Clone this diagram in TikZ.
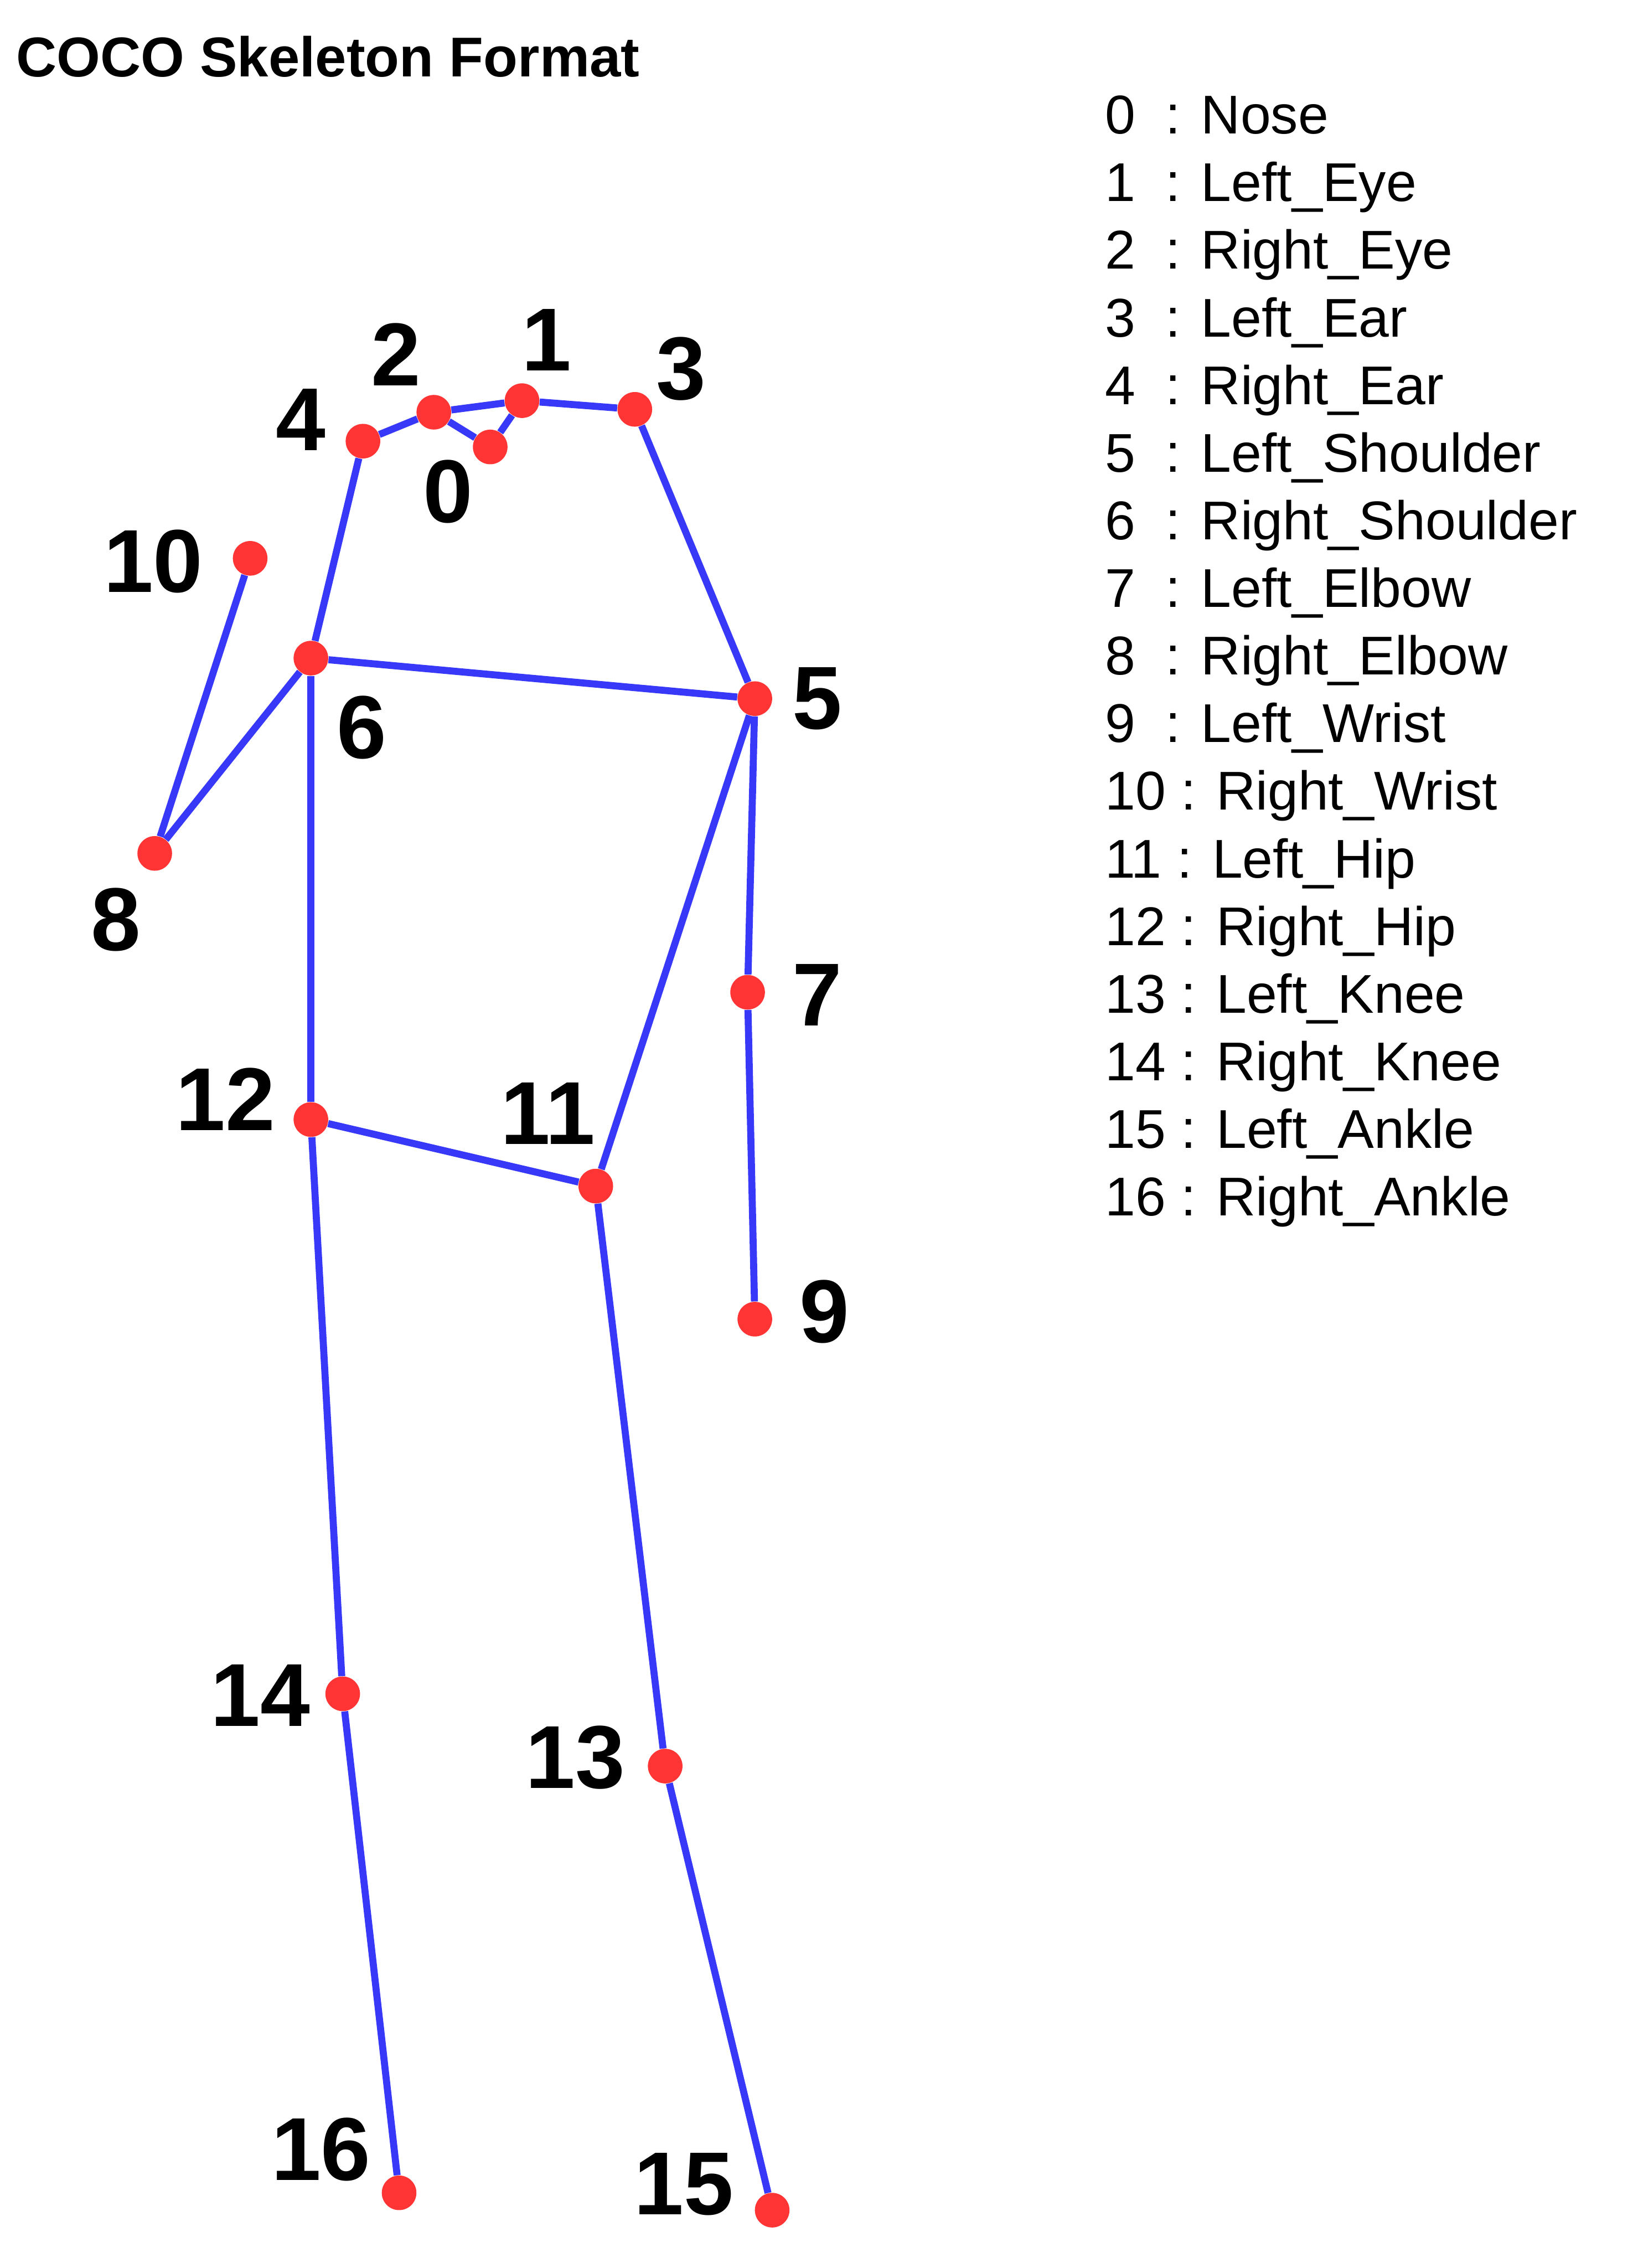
\documentclass[tikz,border=0pt]{standalone}
\usepackage{fontspec}
\setmainfont{Liberation Sans}
\usepackage{tikz}
\usetikzlibrary{positioning}

\definecolor{jointred}{RGB}{255,52,52}
\definecolor{boneblue}{RGB}{56,56,248}

\begin{document}
\begin{tikzpicture}[
			x=0.02673cm, y=-0.02673cm,
			joint/.style={circle, fill=jointred, inner sep=0pt, minimum size=0.64cm},
			bone/.style={draw=boneblue, line width=3.7pt},
			numlabel/.style={inner sep=0pt, font=\fontsize{47}{56}\selectfont\bfseries},
			legtext/.style={anchor=base west, inner sep=0pt, font=\fontsize{28.7}{34}\selectfont},
			]
			\useasboundingbox (0,0) rectangle (1129,1568);
			%Title
			\node[anchor=west, inner sep=0pt, font=\fontsize{29.5}{35}\selectfont\bfseries] (title) at (11,39) {COCO Skeleton Format};

			%Joints
			\node[joint] (j0)  at (339,309)  {};
			\node[joint] (j1)  at (361,277)  {};
			\node[joint] (j2)  at (300,285)  {};
			\node[joint] (j3)  at (439,283)  {};
			\node[joint] (j4)  at (251,305)  {};
			\node[joint] (j5)  at (522,483)  {};
			\node[joint] (j6)  at (215,455)  {};
			\node[joint] (j7)  at (517,686)  {};
			\node[joint] (j8)  at (107,590)  {};
			\node[joint] (j9)  at (522,912)  {};
			\node[joint] (j10) at (173,386)  {};
			\node[joint] (j11) at (412,820)  {};
			\node[joint] (j12) at (215,774)  {};
			\node[joint] (j13) at (460,1221) {};
			\node[joint] (j14) at (237,1171) {};
			\node[joint] (j15) at (534,1528) {};
			\node[joint] (j16) at (276,1516) {};

			%Bones
			\draw[bone] (j4) -- (j2);
			\draw[bone] (j2) -- (j1);
			\draw[bone] (j1) -- (j3);
			\draw[bone] (j2) -- (j0);
			\draw[bone] (j0) -- (j1);
			\draw[bone] (j4) -- (j6);
			\draw[bone] (j3) -- (j5);
			\draw[bone] (j6) -- (j5);
			\draw[bone] (j6) -- (j8);
			\draw[bone] (j8) -- (j10);
			\draw[bone] (j5) -- (j7);
			\draw[bone] (j7) -- (j9);
			\draw[bone] (j6) -- (j12);
			\draw[bone] (j5) -- (j11);
			\draw[bone] (j12) -- (j11);
			\draw[bone] (j12) -- (j14);
			\draw[bone] (j14) -- (j16);
			\draw[bone] (j11) -- (j13);
			\draw[bone] (j13) -- (j15);

			%Joint numbers
			\node[numlabel] (n0)  at (310,340)  {0};
			\node[numlabel] (n1)  at (378,235)  {1};
			\node[numlabel] (n2)  at (274,245)  {2};
			\node[numlabel] (n3)  at (471,255)  {3};
			\node[numlabel] (n4)  at (208,290)  {4};
			\node[numlabel] (n5)  at (565,483)  {5};
			\node[numlabel] (n6)  at (250,503)  {6};
			\node[numlabel] (n7)  at (565,688)  {7};
			\node[numlabel] (n8)  at (80,636)   {8};
			\node[numlabel] (n9)  at (570,907)  {9};
			\node[numlabel] (n10) at (106,388)  {10};
			\node[numlabel] (n11) at (379,770)  {11};
			\node[numlabel] (n12) at (156,760)  {12};
			\node[numlabel] (n13) at (398,1215) {13};
			\node[numlabel] (n14) at (180,1172) {14};
			\node[numlabel] (n15) at (473,1510) {15};
			\node[numlabel] (n16) at (222,1486) {16};

			%Legend
			\node[legtext] (leg0)  at (764,92.5)  {0\ \ : Nose};
			\node[legtext] (leg1)  at (764,139.3) {1\ \ : Left\_Eye};
			\node[legtext] (leg2)  at (764,186.0) {2\ \ : Right\_Eye};
			\node[legtext] (leg3)  at (764,232.8) {3\ \ : Left\_Ear};
			\node[legtext] (leg4)  at (764,279.5) {4\ \ : Right\_Ear};
			\node[legtext] (leg5)  at (764,326.3) {5\ \ : Left\_Shoulder};
			\node[legtext] (leg6)  at (764,373.0) {6\ \ : Right\_Shoulder};
			\node[legtext] (leg7)  at (764,419.8) {7\ \ : Left\_Elbow};
			\node[legtext] (leg8)  at (764,466.5) {8\ \ : Right\_Elbow};
			\node[legtext] (leg9)  at (764,513.3) {9\ \ : Left\_Wrist};
			\node[legtext] (leg10) at (764,560.0) {10 : Right\_Wrist};
			\node[legtext] (leg11) at (764,606.8) {11 : Left\_Hip};
			\node[legtext] (leg12) at (764,653.5) {12 : Right\_Hip};
			\node[legtext] (leg13) at (764,700.3) {13 : Left\_Knee};
			\node[legtext] (leg14) at (764,747.0) {14 : Right\_Knee};
			\node[legtext] (leg15) at (764,793.8) {15 : Left\_Ankle};
			\node[legtext] (leg16) at (764,840.5) {16 : Right\_Ankle};
		\end{tikzpicture}
\end{document}
